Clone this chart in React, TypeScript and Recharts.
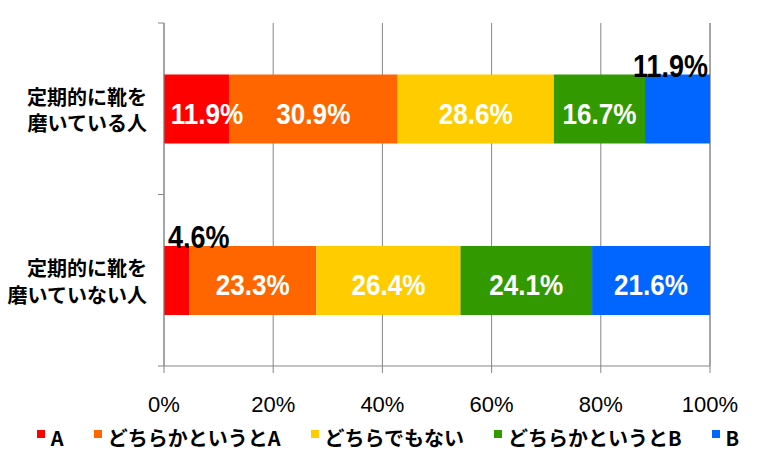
import { BarChart, Bar, XAxis, YAxis, CartesianGrid, Legend, LabelList } from 'recharts'

// categories (each label is drawn on two lines)
const categoryLines = [
  ['定期的に靴を', '磨いている人'],
  ['定期的に靴を', '磨いていない人'],
]

const seriesKeys = ['A', 'AB', 'N', 'BA', 'B']
const seriesNames = ['A', 'どちらかというとA', 'どちらでもない', 'どちらかというとB', 'B']
const seriesColors = ['#ff0000', '#ff6600', '#ffcc00', '#339900', '#0066ff']

// percentages per category
const valuesA = [11.9, 4.6]
const valuesAB = [30.9, 23.3]
const valuesN = [28.6, 26.4]
const valuesBA = [16.7, 24.1]
const valuesB = [11.9, 21.6]

const xTicks = [0, 20, 40, 60, 80, 100]

const data = categoryLines.map((lines, i) => ({
  name: lines.join(''),
  A: valuesA[i],
  AB: valuesAB[i],
  N: valuesN[i],
  BA: valuesBA[i],
  B: valuesB[i],
}))

// small segments whose label sits on top of the bar, in black
const outsideLabels: Record<string, 'start' | 'end'> = {
  'B-0': 'end',
  'A-1': 'start',
}

const latin = "'Liberation Sans', Arial, Helvetica, sans-serif"
const cjk = "'Noto Sans CJK JP', 'Noto Sans', sans-serif"
const gray = '#868686'
const squeeze = 0.87 // no condensed face installed, so narrow the bold sans

const TOP = 23
const BOTTOM_AXIS = 366

function CategoryTick(props: any) {
  const { x, y, payload, index } = props
  const lines = categoryLines[payload.index ?? index] || [String(payload.value)]
  const half = (BOTTOM_AXIS - TOP) / categoryLines.length / 2
  const axisX = x + 17
  return (
    <g>
      <line x1={axisX - 6} x2={axisX} y1={y - half} y2={y - half} stroke={gray} />
      {index === categoryLines.length - 1 && (
        <line x1={axisX - 6} x2={axisX} y1={y + half} y2={y + half} stroke={gray} />
      )}
      <text x={x} y={y} textAnchor="end" fontFamily={cjk} fontWeight="bold" fontSize={20} fill="#000">
        <tspan x={x} dy={-4}>{lines[0]}</tspan>
        <tspan x={x} dy={26.5}>{lines[1]}</tspan>
      </text>
    </g>
  )
}

const makeLabel = (key: string) => (props: any) => {
  const { x, y, width, height, value, index } = props
  const side = outsideLabels[`${key}-${index}`]
  if (side) {
    const tx = side === 'end' ? x + width - 2 : x + 4
    return (
      <text
        transform={`translate(${tx},${y + 2.5}) scale(${squeeze},1)`}
        textAnchor={side}
        fontFamily={latin}
        fontWeight="bold"
        fontSize={31}
        fill="#000"
      >
        {`${value}%`}
      </text>
    )
  }
  const cx = Math.max(x + width / 2, x + 43)
  return (
    <text
      transform={`translate(${cx},${y + height / 2 + 15}) scale(${squeeze},1)`}
      textAnchor="middle"
      fontFamily={latin}
      fontWeight="bold"
      fontSize={30}
      fill="#fff"
    >
      {`${value}%`}
    </text>
  )
}

function renderLegend() {
  return (
    <div
      style={{
        display: 'flex',
        justifyContent: 'center',
        paddingLeft: 10,
        height: 30,
        lineHeight: '30px',
        fontFamily: cjk,
        fontWeight: 'bold',
        fontSize: 20,
        color: '#000',
      }}
    >
      {seriesNames.map((name, i) => (
        <div key={name} style={{ display: 'flex', alignItems: 'center', marginRight: i < seriesNames.length - 1 ? 30 : 0 }}>
          <span
            style={{
              display: 'inline-block',
              width: 8,
              height: 8,
              background: seriesColors[i],
              marginRight: 6,
              transform: 'translateY(-4px)',
            }}
          />
          <span>{name}</span>
        </div>
      ))}
    </div>
  )
}

export default function App() {
  return (
    <div style={{ position: 'absolute', left: 0, top: 0, width: 766, height: 468, background: '#fff' }}>
      <BarChart
        width={766}
        height={468}
        data={data}
        layout="vertical"
        margin={{ top: TOP, right: 56, bottom: 15, left: 0 }}
        barCategoryGap="30%"
      >
        <CartesianGrid horizontal={false} stroke={gray} />
        <XAxis
          type="number"
          domain={[0, 100]}
          ticks={xTicks}
          tickFormatter={(v) => `${v}%`}
          stroke={gray}
          tickSize={7}
          tickMargin={23}
          height={57}
          tick={{ fill: '#000', fontSize: 22, fontFamily: latin }}
        />
        <YAxis
          type="category"
          dataKey="name"
          width={164}
          stroke={gray}
          tickLine={false}
          tickSize={6}
          tickMargin={11}
          tick={CategoryTick}
        />
        <Legend verticalAlign="bottom" content={renderLegend} wrapperStyle={{ left: 0, width: 766 }} />
        {seriesKeys.map((key, i) => (
          <Bar
            key={key}
            dataKey={key}
            name={seriesNames[i]}
            stackId="s"
            fill={seriesColors[i]}
            isAnimationActive={false}
          >
            <LabelList dataKey={key} content={makeLabel(key)} />
          </Bar>
        ))}
      </BarChart>
    </div>
  )
}
